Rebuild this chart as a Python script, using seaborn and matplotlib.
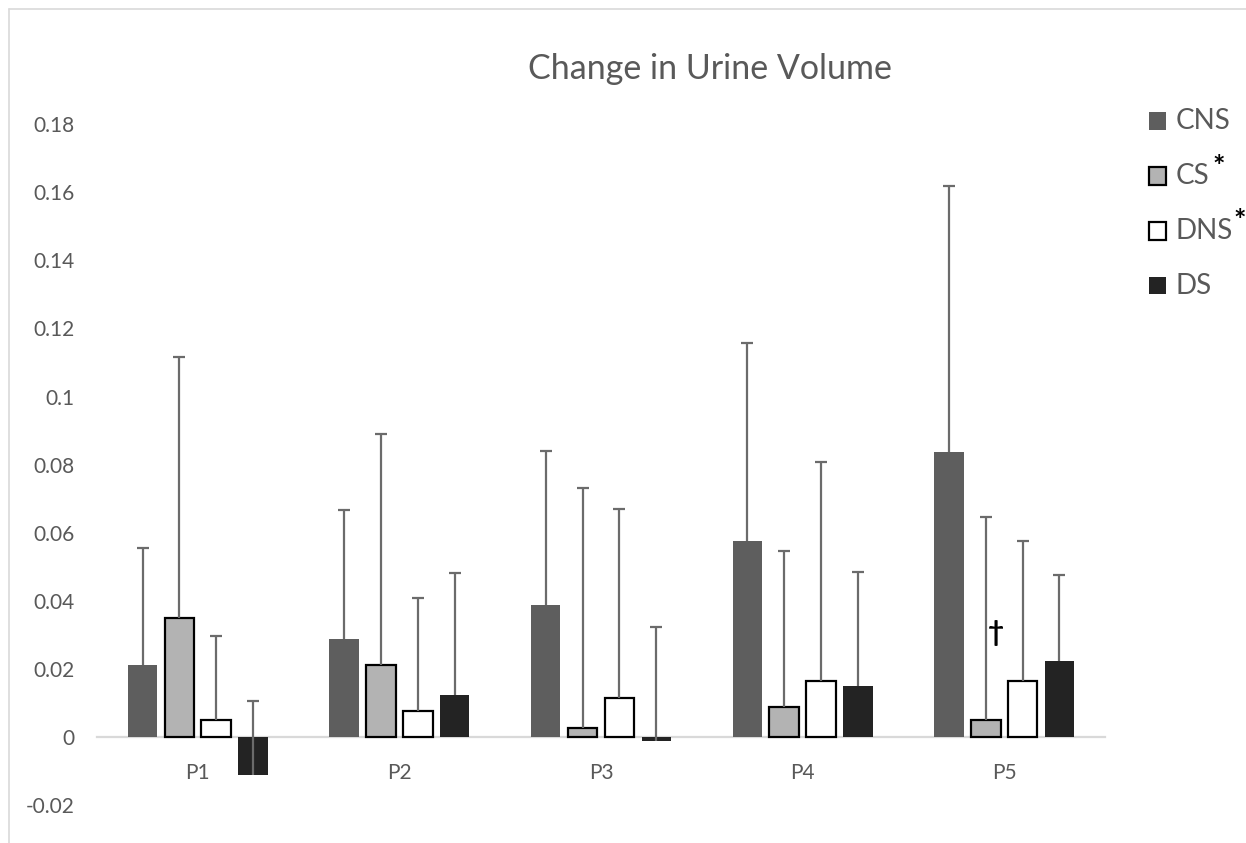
import numpy as np
import pandas as pd
import matplotlib
matplotlib.use("Agg")
import matplotlib.pyplot as plt
from matplotlib.patches import Rectangle
from matplotlib.lines import Line2D
from matplotlib.ticker import FuncFormatter
import seaborn as sns

# Periods and treatment groups
periods = ["P1", "P2", "P3", "P4", "P5"]
groups = ["CNS", "CS", "DNS", "DS"]
starred = ["CS", "DNS"]

# Mean change in urine volume per group across periods
cns_mean = [0.0213, 0.0287, 0.0388, 0.0575, 0.0836]
cs_mean = [0.0350, 0.0211, 0.0027, 0.0088, 0.0051]
dns_mean = [0.0051, 0.0076, 0.0115, 0.0164, 0.0164]
ds_mean = [-0.0112, 0.0123, -0.0011, 0.0150, 0.0223]

# Upper error (distance from mean to top of whisker)
cns_err = [0.0343, 0.0380, 0.0452, 0.0583, 0.0782]
cs_err = [0.0766, 0.0679, 0.0705, 0.0459, 0.0594]
dns_err = [0.0245, 0.0332, 0.0555, 0.0645, 0.0413]
ds_err = [0.0217, 0.0359, 0.0334, 0.0335, 0.0252]

means = [cns_mean, cs_mean, dns_mean, ds_mean]
errors = [cns_err, cs_err, dns_err, ds_err]

fills = ["#5e5e5e", "#b3b3b3", "#ffffff", "#232323"]
edges = ["none", "#000000", "#000000", "none"]
text_grey = "#595959"
whisker_grey = "#6b6b6b"

df = pd.DataFrame({
    "period": periods * len(groups),
    "group": np.repeat(groups, len(periods)),
    "change": np.concatenate(means),
})

sns.set_theme(style="white")
plt.rcParams["font.family"] = ["Lato", "DejaVu Sans"]

W, H = 1246, 843
fig = plt.figure(figsize=(W / 100, H / 100), dpi=100)
ax = fig.add_axes([97 / W, 0, 1008 / W, (H - 56) / H])

sns.barplot(
    data=df, x="period", y="change", hue="group",
    order=periods, hue_order=groups,
    palette=dict(zip(groups, fills)), saturation=1,
    width=0.731, gap=0.2, errorbar=None, legend=False, ax=ax,
)
bar_containers = list(ax.containers)

# Style bars and add one-sided whiskers from the bar value upward
for i, cont in enumerate(bar_containers):
    xs = []
    for bar in cont:
        if edges[i] == "none":
            bar.set_edgecolor(fills[i])
            bar.set_linewidth(0)
        else:
            bar.set_edgecolor(edges[i])
            bar.set_linewidth(1.6)
        bar.set_zorder(2)
        xs.append(bar.get_x() + bar.get_width() / 2)
    eb = ax.errorbar(
        xs, means[i], yerr=[np.zeros(len(periods)), errors[i]],
        fmt="none", ecolor=whisker_grey, elinewidth=1.6,
        capsize=4.3, capthick=1.6, zorder=3,
    )
    # keep only the cap at the top of each whisker
    eb.lines[1][0].set_visible(False)

ax.set_xlim(-0.5, 4.5)
ax.set_ylim(-0.0311, 0.2)
ax.set_yticks(np.arange(-0.02, 0.1801, 0.02))
ax.yaxis.set_major_formatter(FuncFormatter(lambda v, p: f"{round(v, 4):g}"))
ax.set_xlabel("")
ax.set_ylabel("")

for s in ["top", "right", "left"]:
    ax.spines[s].set_visible(False)
ax.spines["bottom"].set_position(("data", 0))
ax.spines["bottom"].set_color("#d9d9d9")
ax.spines["bottom"].set_linewidth(1.6)
ax.spines["bottom"].set_zorder(1)

ax.tick_params(axis="y", length=0, pad=16, labelsize=15, labelcolor=text_grey)
ax.tick_params(axis="x", length=0, pad=19, labelsize=15, labelcolor=text_grey)

# Significance mark beside P5 CS
cs_bar = bar_containers[1][4]
ax.text(cs_bar.get_x() + cs_bar.get_width() / 2 + 0.05, 0.0305, "\u2020",
        ha="center", va="center", fontsize=20, color="black",
        fontweight="bold")

fig.text(710 / W, 1 - 69 / H, "Change in Urine Volume", ha="center", va="center",
         fontsize=24.5, color=text_grey)

# Legend
row_y = [121, 176, 231, 286]
for name, fc, ec, y in zip(groups, fills, edges, row_y):
    fig.add_artist(Rectangle((1149 / W, 1 - (y + 8.5) / H), 17 / W, 17 / H,
                             transform=fig.transFigure, facecolor=fc,
                             edgecolor=(fc if ec == "none" else ec),
                             linewidth=(0 if ec == "none" else 1.6)))
    fig.text(1176 / W, 1 - y / H, name, ha="left", va="center",
             fontsize=20, color=text_grey)
star_pos = {"CS": (1219, 175), "DNS": (1240, 229)}
for name in starred:
    x, y = star_pos[name]
    fig.text(x / W, 1 - y / H, "*", ha="center", va="baseline",
             fontsize=21, color="black", fontweight="bold")

# Chart border
fig.add_artist(Line2D([9 / W, 9 / W], [0, 1 - 9 / H], transform=fig.transFigure,
                      color="#d9d9d9", linewidth=1.2))
fig.add_artist(Line2D([9 / W, 1], [1 - 9 / H, 1 - 9 / H], transform=fig.transFigure,
                      color="#d9d9d9", linewidth=1.2))

fig.savefig("out.png", dpi=100, facecolor="white")
